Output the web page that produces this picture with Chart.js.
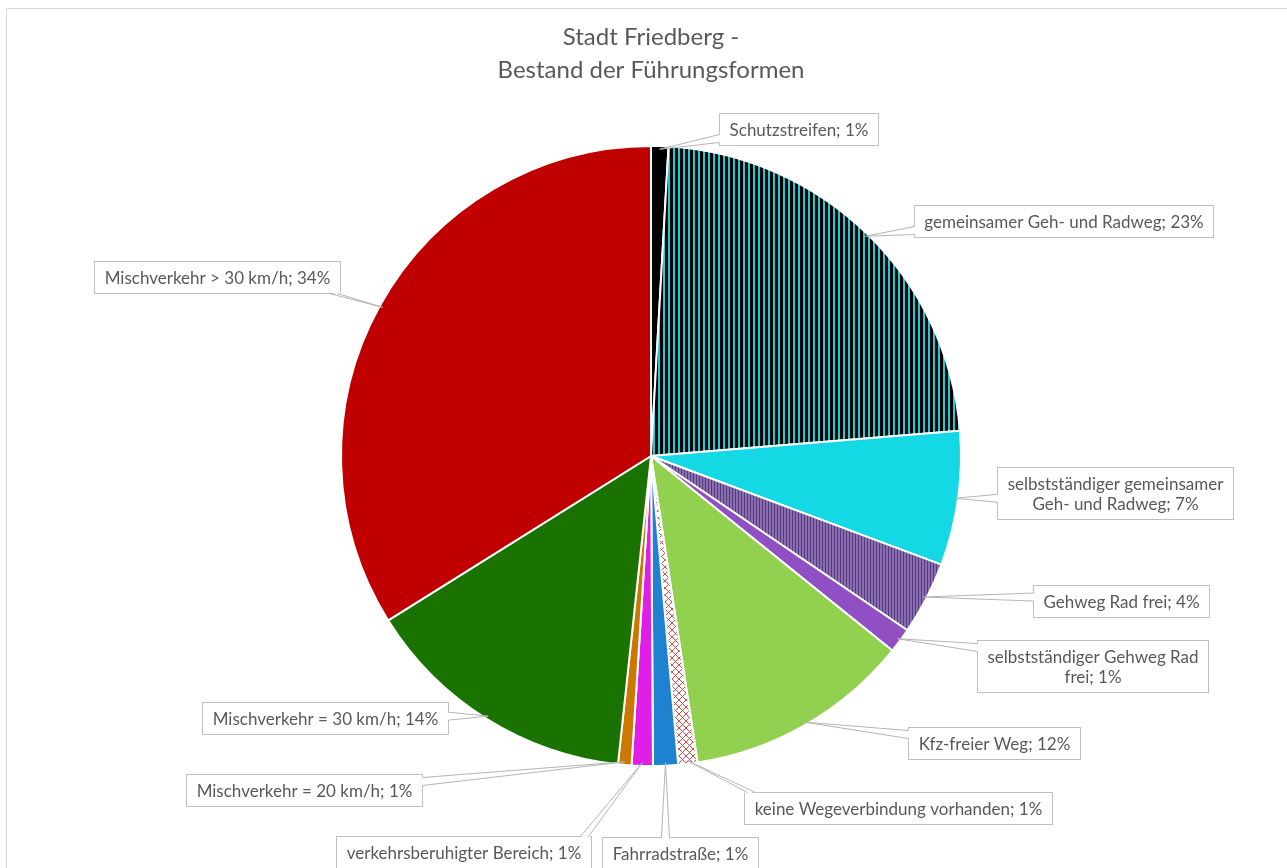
<!DOCTYPE html>
<html><head><meta charset="utf-8">
<script src="https://cdn.jsdelivr.net/npm/chart.js@4.4.1/dist/chart.umd.min.js"></script>
<style>
html,body{margin:0;padding:0;background:#fff;overflow:hidden;width:1287px;height:868px;}
#frame{position:absolute;left:6px;top:8px;width:1400px;height:1000px;border:1px solid #d9d9d9;box-sizing:border-box;}
canvas{position:absolute;left:0;top:0;}
</style></head><body>
<div id="frame"></div>
<canvas id="c" width="1287" height="868"></canvas>
<script>
// ---- data ----
const categories = [
  'Schutzstreifen',
  'gemeinsamer Geh- und Radweg',
  'selbstständiger gemeinsamer Geh- und Radweg',
  'Gehweg Rad frei',
  'selbstständiger Gehweg Rad frei',
  'Kfz-freier Weg',
  'keine Wegeverbindung vorhanden',
  'Fahrradstraße',
  'verkehrsberuhigter Bereich',
  'Mischverkehr = 20 km/h',
  'Mischverkehr = 30 km/h',
  'Mischverkehr > 30 km/h'
];
const shares = [0.9, 22.8, 7.0, 3.8, 1.3, 11.8, 1.0, 1.3, 1.1, 0.7, 14.4, 33.9];
const titleLines = ['Stadt Friedberg -', 'Bestand der Führungsformen'];

// ---- styles ----
const FONT = 'Lato, "Open Sans", sans-serif';
const TEXT = '#595959';

function stripePattern(a, wa, b, wb) {
  const c = document.createElement('canvas'); c.width = wa + wb; c.height = 8;
  const x = c.getContext('2d');
  x.fillStyle = a; x.fillRect(0, 0, wa, 8);
  x.fillStyle = b; x.fillRect(wa, 0, wb, 8);
  return x.createPattern(c, 'repeat');
}
function crossPattern() {
  const c = document.createElement('canvas'); c.width = 7; c.height = 7;
  const x = c.getContext('2d');
  x.fillStyle = '#ffffff'; x.fillRect(0, 0, 7, 7);
  x.strokeStyle = '#d84a4a'; x.lineWidth = 1;
  x.beginPath(); x.moveTo(0, 0); x.lineTo(7, 7); x.moveTo(7, 0); x.lineTo(0, 7); x.stroke();
  return x.createPattern(c, 'repeat');
}
const colors = [
  '#000000',
  stripePattern('#050505', 3, '#26c8d2', 2),
  '#14d8e4',
  stripePattern('#553d7c', 1, '#8a6cb0', 2),
  '#9050c4',
  '#92d050',
  crossPattern(),
  '#1f82d0',
  '#e01ee8',
  '#cc7800',
  '#1a7300',
  '#c00000'
];

// label box centres relative to pie centre (px) and wrap width
const labelOffsets = [
  [147, -327], [413, -235], [464, 37], [470, 145], [442, 210], [343, 287],
  [247, 352], [29, 397], [-188, 396], [-347, 334], [-326, 262], [-434, -179]
];
const wrapWidths = [0, 0, 232, 0, 228, 0, 0, 0, 0, 0, 0, 0];

function wrap(ctx, text, maxW) {
  if (!maxW) return [text];
  const words = text.split(' ');
  const lines = []; let cur = '';
  for (const w of words) {
    const t = cur ? cur + ' ' + w : w;
    if (cur && ctx.measureText(t).width > maxW) { lines.push(cur); cur = w; } else cur = t;
  }
  if (cur) lines.push(cur);
  return lines;
}

const calloutPlugin = {
  id: 'callouts',
  afterDatasetsDraw(chart) {
    const ctx = chart.ctx;
    const meta = chart.getDatasetMeta(0);
    const data = chart.data.datasets[0].data;
    const total = data.reduce((a, b) => a + b, 0);
    ctx.save();
    ctx.font = '17px ' + FONT;
    const lh = 20, padX = 10, padY = 6;
    meta.data.forEach((arc, i) => {
      const p = arc.getProps(['x', 'y', 'startAngle', 'endAngle', 'outerRadius'], true);
      const mid = (p.startAngle + p.endAngle) / 2;
      const ax = p.x + Math.cos(mid) * p.outerRadius * 0.99;
      const ay = p.y + Math.sin(mid) * p.outerRadius * 0.99;
      const txt = chart.data.labels[i] + '; ' + Math.round(data[i] / total * 100) + '%';
      const lines = wrap(ctx, txt, wrapWidths[i]);
      const tw = Math.max(...lines.map(l => ctx.measureText(l).width));
      const bw = tw + 2 * padX, bh = lines.length * lh + 2 * padY;
      const cx = p.x + labelOffsets[i][0], cy = p.y + labelOffsets[i][1];
      const L = Math.round(cx - bw / 2) + 0.5, T = Math.round(cy - bh / 2) + 0.5, R = L + Math.round(bw), B = T + Math.round(bh);
      // box
      ctx.fillStyle = '#ffffff'; ctx.strokeStyle = '#bfbfbf'; ctx.lineWidth = 1;
      ctx.fillRect(L, T, R - L, B - T); ctx.strokeRect(L, T, R - L, B - T);
      // wedge
      const rx = (ax - cx) / (bw / 2), ry = (ay - cy) / (bh / 2);
      let b1, b2, inset;
      const hw = 4;
      if (Math.abs(rx) > Math.abs(ry)) {
        const ex = rx > 0 ? R : L;
        const yy = Math.min(Math.max(ay, T + hw + 3), B - hw - 3);
        b1 = [ex, yy - hw]; b2 = [ex, yy + hw]; inset = [rx > 0 ? -1.5 : 1.5, 0];
      } else {
        const ey = ry > 0 ? B : T;
        const xx = Math.min(Math.max(ax, L + hw + 3), R - hw - 3);
        b1 = [xx - hw, ey]; b2 = [xx + hw, ey]; inset = [0, ry > 0 ? -1.5 : 1.5];
      }
      ctx.beginPath();
      ctx.moveTo(b1[0] + inset[0], b1[1] + inset[1]);
      ctx.lineTo(ax, ay);
      ctx.lineTo(b2[0] + inset[0], b2[1] + inset[1]);
      ctx.closePath();
      ctx.fillStyle = '#ffffff'; ctx.fill();
      ctx.beginPath();
      ctx.moveTo(b1[0], b1[1]); ctx.lineTo(ax, ay); ctx.lineTo(b2[0], b2[1]);
      ctx.strokeStyle = '#b4b4b4'; ctx.stroke();
      // text
      ctx.fillStyle = TEXT; ctx.textAlign = 'center'; ctx.textBaseline = 'middle';
      lines.forEach((l, k) => {
        ctx.fillText(l, (L + R) / 2, T + padY + lh / 2 + k * lh + 1);
      });
    });
    ctx.restore();
  }
};

new Chart(document.getElementById('c'), {
  type: 'pie',
  data: {
    labels: categories,
    datasets: [{
      data: shares,
      backgroundColor: colors,
      borderColor: '#ffffff',
      borderWidth: 2,
      hoverOffset: 0
    }]
  },
  options: {
    responsive: false,
    animation: false,
    layout: { padding: { left: 340, right: 325, top: 0, bottom: 101 } },
    plugins: {
      legend: { display: false },
      tooltip: { enabled: false },
      title: {
        display: true,
        text: titleLines,
        color: TEXT,
        font: { family: FONT, size: 24, weight: 'normal', lineHeight: 1.375 },
        padding: { top: 21, bottom: 58 }
      }
    }
  },
  plugins: [calloutPlugin]
});
</script>
</body></html>
